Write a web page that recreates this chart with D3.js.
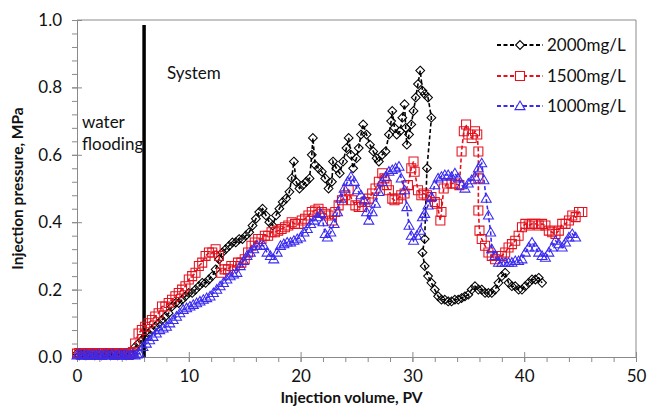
<!DOCTYPE html>
<html lang="en">
<head>
<meta charset="UTF-8">
<title>Injection pressure</title>
<script src="https://cdn.jsdelivr.net/npm/d3@7"></script>
<style>
    body { margin: 0; background: #fff; }
    svg text { font-family: Lato, "Open Sans", sans-serif; fill: #111; }
</style>
</head>
<body>
<div id="chart"></div>
<script>
    // series data, [PV, MPa]
    var data2000 = [
        [0,0.01],[0.2,0.005],[0.4,0.01],[0.6,0.008],[0.8,0.005],[1.0,0.01],[1.2,0.006],[1.4,0.01],[1.6,0.005],[1.8,0.01],
        [2.0,0.008],[2.2,0.005],[2.4,0.01],[2.6,0.006],[2.8,0.01],[3.0,0.005],[3.2,0.01],[3.4,0.008],[3.6,0.005],[3.8,0.01],
        [4.0,0.006],[4.2,0.01],[4.4,0.005],[4.6,0.01],[4.8,0.008],[5.0,0.01],[5.2,0.03],[5.5,0.04],[5.8,0.05],[6.1,0.06],
        [6.4,0.07],[6.7,0.08],[7.0,0.09],[7.3,0.10],[7.6,0.11],[7.9,0.12],[8.2,0.13],[8.5,0.15],[8.8,0.16],[9.1,0.16],
        [9.4,0.17],[9.7,0.18],[10.0,0.19],[10.3,0.19],[10.6,0.20],[10.9,0.21],[11.2,0.22],[11.5,0.22],[11.8,0.23],[12.1,0.24],
        [12.4,0.26],[12.7,0.29],[13.0,0.31],[13.3,0.32],[13.6,0.33],[13.9,0.34],[14.2,0.34],[14.5,0.35],[14.8,0.35],[15.1,0.36],
        [15.4,0.37],[15.7,0.39],[16.0,0.41],[16.3,0.43],[16.6,0.44],[16.9,0.42],[17.2,0.40],[17.5,0.39],[17.8,0.42],[18.1,0.44],
        [18.4,0.46],[18.7,0.47],[19.0,0.49],[19.2,0.53],[19.4,0.58],[19.6,0.52],[19.9,0.50],[20.2,0.51],[20.5,0.52],[20.8,0.53],
        [21.0,0.60],[21.1,0.65],[21.3,0.57],[21.6,0.56],[21.9,0.55],[22.2,0.53],[22.5,0.50],[22.8,0.52],[22.9,0.58],[23.2,0.56],
        [23.5,0.545],[23.8,0.58],[24.1,0.62],[24.3,0.65],[24.5,0.60],[24.7,0.56],[25.0,0.59],[25.2,0.62],[25.4,0.66],[25.6,0.69],
        [25.9,0.66],[26.2,0.63],[26.5,0.61],[26.8,0.59],[27.0,0.58],[27.3,0.60],[27.6,0.61],[27.9,0.66],[28.1,0.70],[28.2,0.73],
        [28.4,0.68],[28.6,0.66],[28.9,0.67],[29.1,0.71],[29.3,0.75],[29.4,0.68],[29.5,0.63],[29.7,0.66],[29.9,0.69],[30.1,0.73],
        [30.3,0.77],[30.5,0.81],[30.7,0.85],[30.9,0.79],[31.1,0.78],[31.4,0.77],[31.7,0.71],[31.3,0.56],[31.1,0.35],[30.9,0.31],
        [31.1,0.27],[31.4,0.24],[31.7,0.22],[32.0,0.20],[32.3,0.18],[32.6,0.17],[32.9,0.17],[33.2,0.165],[33.5,0.165],[33.8,0.17],
        [34.1,0.17],[34.4,0.175],[34.7,0.18],[35.0,0.185],[35.3,0.20],[35.6,0.21],[35.9,0.20],[36.2,0.20],[36.5,0.19],[36.8,0.19],
        [37.1,0.19],[37.4,0.20],[37.7,0.22],[38.0,0.24],[38.3,0.25],[38.6,0.22],[38.9,0.21],[39.2,0.21],[39.5,0.20],[39.8,0.20],
        [40.1,0.21],[40.4,0.22],[40.7,0.23],[41.0,0.23],[41.3,0.235],[41.6,0.22]
    ];

    var data1500 = [
        [0,0.01],[0.2,0.012],[0.4,0.008],[0.6,0.012],[0.8,0.01],[1.0,0.006],[1.2,0.012],[1.4,0.01],[1.6,0.008],[1.8,0.012],
        [2.0,0.01],[2.2,0.006],[2.4,0.012],[2.6,0.01],[2.8,0.008],[3.0,0.012],[3.2,0.01],[3.4,0.006],[3.6,0.012],[3.8,0.01],
        [4.0,0.008],[4.2,0.012],[4.4,0.01],[4.6,0.006],[4.8,0.012],[5.0,0.015],[5.2,0.04],[5.5,0.07],[5.8,0.08],[6.1,0.09],
        [6.4,0.10],[6.7,0.11],[7.0,0.12],[7.3,0.13],[7.6,0.15],[7.9,0.15],[8.2,0.16],[8.5,0.17],[8.8,0.18],[9.1,0.19],
        [9.4,0.20],[9.7,0.21],[10.0,0.23],[10.3,0.24],[10.6,0.25],[10.9,0.27],[11.2,0.28],[11.5,0.30],[11.8,0.31],[12.1,0.31],
        [12.4,0.32],[12.7,0.30],[12.9,0.25],[13.2,0.26],[13.5,0.26],[13.8,0.27],[14.1,0.27],[14.4,0.28],[14.7,0.28],[15.0,0.29],
        [15.3,0.31],[15.6,0.33],[15.9,0.34],[16.2,0.35],[16.5,0.35],[16.8,0.36],[17.1,0.36],[17.4,0.37],[17.7,0.37],[18.0,0.375],
        [18.3,0.38],[18.6,0.385],[18.9,0.39],[19.2,0.40],[19.5,0.395],[19.8,0.395],[20.1,0.405],[20.4,0.41],[20.7,0.42],[21.0,0.43],
        [21.3,0.435],[21.6,0.44],[21.9,0.43],[22.2,0.425],[22.5,0.42],[22.8,0.405],[23.1,0.43],[23.4,0.45],[23.7,0.465],[24.0,0.48],
        [24.3,0.495],[24.6,0.465],[24.9,0.45],[25.2,0.445],[25.5,0.445],[25.8,0.46],[26.1,0.47],[26.4,0.485],[26.7,0.50],[27.0,0.52],
        [27.3,0.545],[27.5,0.53],[27.7,0.51],[27.9,0.495],[28.2,0.47],[28.4,0.465],[28.7,0.47],[29.0,0.48],[29.3,0.485],[29.6,0.51],
        [29.9,0.56],[30.1,0.58],[30.2,0.55],[30.5,0.495],[30.8,0.48],[31.0,0.485],[31.3,0.48],[31.7,0.475],[32.0,0.46],[32.2,0.455],
        [32.5,0.405],[32.6,0.43],[32.8,0.50],[33.1,0.515],[33.5,0.515],[33.8,0.515],[34.2,0.51],[34.4,0.61],[34.6,0.67],[34.8,0.69],
        [35.0,0.66],[35.3,0.65],[35.6,0.67],[35.8,0.66],[35.9,0.61],[35.9,0.53],[35.9,0.435],[36.0,0.375],[36.2,0.35],[36.5,0.33],
        [36.8,0.31],[37.1,0.30],[37.4,0.29],[37.7,0.30],[38.0,0.30],[38.3,0.31],[38.6,0.325],[38.9,0.335],[39.2,0.345],[39.5,0.36],
        [39.8,0.385],[40.1,0.395],[40.4,0.39],[40.7,0.395],[41.0,0.395],[41.3,0.39],[41.6,0.395],[41.9,0.39],[42.2,0.375],[42.5,0.37],
        [42.8,0.365],[43.1,0.375],[43.4,0.395],[43.7,0.395],[44.0,0.405],[44.3,0.42],[44.6,0.415],[44.9,0.43],[45.2,0.43]
    ];

    var data1000 = [
        [0,0.005],[0.2,0.008],[0.4,0.004],[0.6,0.006],[0.8,0.008],[1.0,0.004],[1.2,0.006],[1.4,0.008],[1.6,0.004],[1.8,0.006],
        [2.0,0.008],[2.2,0.004],[2.4,0.006],[2.6,0.008],[2.8,0.004],[3.0,0.006],[3.2,0.008],[3.4,0.004],[3.6,0.006],[3.8,0.008],
        [4.0,0.004],[4.2,0.006],[4.4,0.008],[4.6,0.004],[4.8,0.006],[5.0,0.008],[5.2,0.005],[5.4,0.008],[5.6,0.01],[5.9,0.03],
        [6.2,0.04],[6.5,0.05],[6.8,0.06],[7.1,0.07],[7.4,0.08],[7.7,0.085],[8.0,0.09],[8.3,0.10],[8.6,0.11],[8.9,0.12],
        [9.2,0.13],[9.5,0.14],[9.8,0.145],[10.1,0.15],[10.4,0.155],[10.7,0.16],[11.0,0.165],[11.3,0.17],[11.6,0.175],[11.9,0.18],
        [12.2,0.19],[12.5,0.20],[12.8,0.21],[13.1,0.22],[13.4,0.23],[13.7,0.24],[14.0,0.245],[14.3,0.25],[14.6,0.27],[14.9,0.285],
        [15.2,0.30],[15.5,0.31],[15.8,0.32],[16.1,0.33],[16.4,0.33],[16.7,0.33],[17.0,0.31],[17.3,0.30],[17.6,0.29],[17.9,0.31],
        [18.2,0.33],[18.5,0.335],[18.8,0.34],[19.1,0.34],[19.4,0.345],[19.7,0.35],[20.0,0.355],[20.3,0.37],[20.6,0.38],[20.9,0.395],
        [21.2,0.405],[21.5,0.415],[21.8,0.425],[22.0,0.40],[22.2,0.365],[22.4,0.355],[22.7,0.37],[23.0,0.395],[23.3,0.43],[23.6,0.47],
        [23.9,0.50],[24.2,0.52],[24.5,0.535],[24.8,0.52],[25.1,0.495],[25.4,0.48],[25.7,0.465],[25.9,0.43],[26.1,0.405],[26.4,0.43],
        [26.7,0.455],[27.0,0.49],[27.3,0.52],[27.6,0.535],[27.9,0.55],[28.2,0.555],[28.5,0.56],[28.8,0.565],[29.0,0.53],[29.3,0.495],
        [29.5,0.445],[29.7,0.39],[29.9,0.36],[30.1,0.345],[30.4,0.36],[30.7,0.375],[30.9,0.415],[31.1,0.425],[31.4,0.45],[31.7,0.475],
        [32.0,0.51],[32.3,0.53],[32.6,0.535],[32.9,0.54],[33.2,0.54],[33.5,0.535],[33.8,0.545],[34.1,0.53],[34.4,0.51],[34.7,0.50],
        [35.0,0.515],[35.3,0.525],[35.6,0.535],[35.9,0.56],[36.2,0.575],[36.4,0.525],[36.6,0.47],[36.8,0.42],[37.0,0.37],[37.1,0.32],
        [37.4,0.30],[37.7,0.28],[38.0,0.28],[38.3,0.28],[38.6,0.28],[38.9,0.28],[39.2,0.285],[39.5,0.285],[39.8,0.29],[40.1,0.31],
        [40.4,0.325],[40.7,0.34],[41.0,0.325],[41.3,0.31],[41.6,0.30],[41.9,0.295],[42.2,0.31],[42.5,0.325],[42.8,0.345],[43.1,0.335],
        [43.4,0.325],[43.7,0.34],[44.0,0.355],[44.3,0.365],[44.6,0.355]
    ];

    var seriesNames = ['2000mg/L', '1500mg/L', '1000mg/L'];
    var seriesColors = ['#000000', '#e3121e', '#3a2bf0'];
    var xTicks = [0, 10, 20, 30, 40, 50];
    var yTicks = [0, 0.2, 0.4, 0.6, 0.8, 1.0];
    var systemStart = 6;   // PV where the system injection starts

    var W = 648, H = 409;
    var mLeft = 77, mRight = 636, mTop = 20, mBottom = 357;

    var svg = d3.select('#chart').append('svg')
        .attr('width', W)
        .attr('height', H);

    var x = d3.scaleLinear().domain([0, 50]).range([mLeft, mRight]);
    var y = d3.scaleLinear().domain([0, 1]).range([mBottom, mTop]);

    // plot frame (top & right)
    svg.append('path')
        .attr('d', 'M' + mLeft + ',' + mTop + 'H' + mRight + 'V' + mBottom)
        .attr('fill', 'none')
        .attr('stroke', '#8a8a8a')
        .attr('stroke-width', 1);

    // minor ticks
    var minorX = d3.range(0, 50.01, 2);
    var minorY = d3.range(0, 1.001, 0.04);

    var gx = svg.append('g').attr('transform', 'translate(0,' + mBottom + ')');
    gx.call(d3.axisBottom(x).tickValues(minorX).tickSize(5).tickFormat(''));
    gx.append('g').call(d3.axisBottom(x).tickValues(xTicks).tickSizeInner(-5).tickSizeOuter(0).tickFormat(''));
    gx.append('g').call(d3.axisBottom(x).tickValues(xTicks).tickSize(5).tickFormat(d3.format('d')).tickPadding(8));
    gx.selectAll('path, line').attr('stroke', '#8a8a8a');
    gx.selectAll('text').attr('font-size', 17).style('font-family', 'Lato, sans-serif').attr('fill', '#111');

    var gy = svg.append('g').attr('transform', 'translate(' + mLeft + ',0)');
    gy.call(d3.axisLeft(y).tickValues(minorY).tickSize(5).tickFormat(''));
    gy.append('g').call(d3.axisLeft(y).tickValues(yTicks).tickSizeInner(-5).tickSizeOuter(0).tickFormat(''));
    gy.append('g').call(d3.axisLeft(y).tickValues(yTicks).tickSize(5).tickFormat(d3.format('.1f')).tickPadding(10));
    gy.selectAll('path, line').attr('stroke', '#8a8a8a');
    gy.selectAll('text').attr('font-size', 17).style('font-family', 'Lato, sans-serif').attr('fill', '#111');

    // axis titles
    svg.append('text')
        .attr('x', (mLeft + mRight) / 2 - 5)
        .attr('y', 403)
        .attr('text-anchor', 'middle')
        .attr('font-size', 15.5)
        .attr('font-weight', 'bold')
        .text('Injection volume, PV');

    svg.append('text')
        .attr('transform', 'translate(23,' + ((mTop + mBottom) / 2) + ') rotate(-90)')
        .attr('text-anchor', 'middle')
        .attr('font-size', 15.5)
        .attr('font-weight', 'bold')
        .text('Injection pressure, MPa');

    // thick line marking the start of the system
    svg.append('line')
        .attr('x1', x(systemStart)).attr('x2', x(systemStart))
        .attr('y1', y(0.985)).attr('y2', y(0))
        .attr('stroke', '#000')
        .attr('stroke-width', 3.5);

    svg.append('text').attr('x', 167).attr('y', 79).attr('font-size', 17).text('System');
    svg.append('text').attr('x', 82).attr('y', 128).attr('font-size', 17).text('water');
    svg.append('text').attr('x', 82).attr('y', 150).attr('font-size', 17).text('flooding');

    // marker shapes
    var shapes = [
        'M0,-4.4L4.4,0L0,4.4L-4.4,0Z',
        'M-4.5,-4.5H4.5V4.5H-4.5Z',
        'M0,-5L5,3.6H-5Z'
    ];

    var line = d3.line().x(function (d) { return x(d[0]); }).y(function (d) { return y(d[1]); });
    var allSeries = [data2000, data1500, data1000];

    allSeries.forEach(function (s, i) {
        var g = svg.append('g');
        g.append('path')
            .datum(s)
            .attr('d', line)
            .attr('fill', 'none')
            .attr('stroke', seriesColors[i])
            .attr('stroke-width', 1.6)
            .attr('stroke-dasharray', '4,2.5');
        g.selectAll('path.m')
            .data(s)
            .enter().append('path')
            .attr('class', 'm')
            .attr('d', shapes[i])
            .attr('transform', function (d) { return 'translate(' + x(d[0]) + ',' + y(d[1]) + ')'; })
            .attr('fill', 'none')
            .attr('stroke', seriesColors[i])
            .attr('stroke-width', 1.05);
    });

    // legend
    var legendY = [45, 76, 106];
    seriesNames.forEach(function (name, i) {
        var g = svg.append('g').attr('transform', 'translate(0,' + legendY[i] + ')');
        g.append('line')
            .attr('x1', 497).attr('x2', 543)
            .attr('stroke', seriesColors[i])
            .attr('stroke-width', 2.2)
            .attr('stroke-dasharray', '4,2.5');
        g.append('path')
            .attr('d', shapes[i])
            .attr('transform', 'translate(520,0)')
            .attr('fill', '#fff')
            .attr('stroke', seriesColors[i])
            .attr('stroke-width', 1.1);
        g.append('text')
            .attr('x', 547)
            .attr('y', 6)
            .attr('font-size', 17)
            .text(name);
    });
</script>
</body>
</html>
